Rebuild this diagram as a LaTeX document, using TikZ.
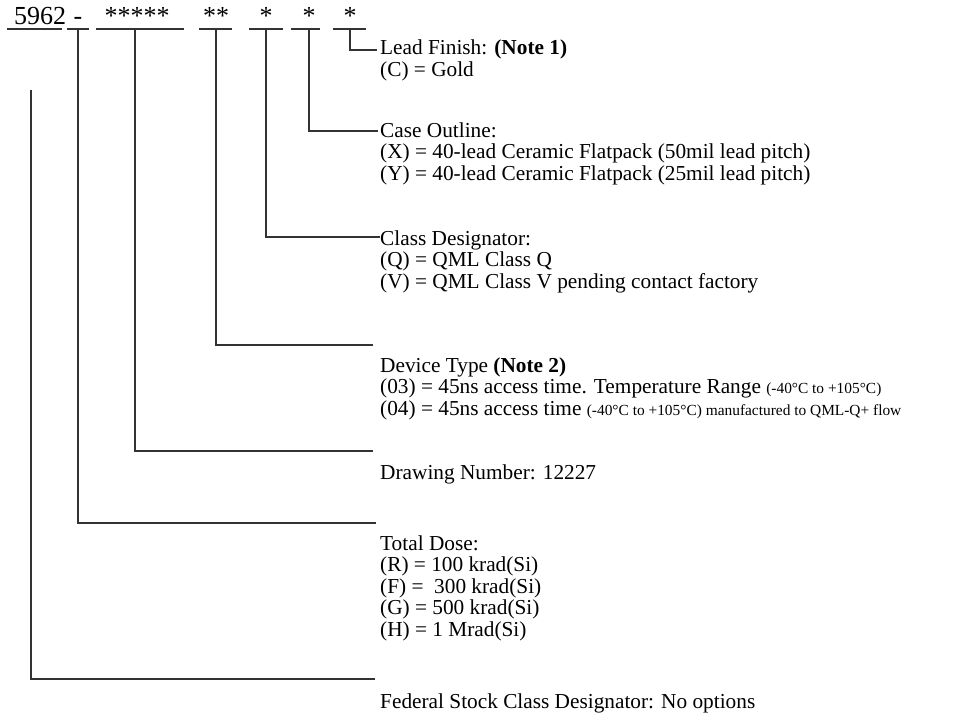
\documentclass[tikz,border=0pt]{standalone}
\usepackage{fontspec}
\setmainfont{Liberation Serif}
\newcommand{\tinytxt}[1]{{\fontsize{15.4}{16}\selectfont #1}}
\tikzset{
  field/.style={anchor=base, inner sep=0pt, font=\fontsize{26}{26}\selectfont},
  entry/.style={anchor=base west, inner sep=0pt, align=left, font=\fontsize{21.3}{21.5}\selectfont},
  rule/.style={line width=1.2pt, draw=black!80}
}

\begin{document}
\begin{tikzpicture}[x=1pt, y=-1pt]
  \useasboundingbox (0,0) rectangle (969,717);
  \node[field, anchor=base west] (fsc) at (14,25) {5962};
  \node[field] (tdose) at (78,25) {-};
  \node[field] (dwg) at (137,25) {*****};
  \node[field] (dev) at (216,25) {**};
  \node[field] (cls) at (266,25) {*};
  \node[field] (case) at (309,25) {*};
  \node[field] (fin) at (350,25) {*};
  \foreach \a/\b in {7/62, 67/89, 96/184, 199/232, 249/283, 291/320, 333/366} {
    \draw[rule] (\a,29) -- (\b,29);
  }
  \node[entry] (finish) at (380,76.5) {Lead Finish: \textbf{(Note 1)}\\(C) = Gold};
  \node[entry] (outline) at (380,180) {Case Outline:\\(X) = 40-lead Ceramic Flatpack (50mil lead pitch)\\(Y) = 40-lead Ceramic Flatpack (25mil lead pitch)};
  \node[entry] (classd) at (380,288) {Class Designator:\\(Q) = QML Class Q\\(V) = QML Class V pending contact factory};
  \node[entry] (devtype) at (380,415) {Device Type \textbf{(Note 2)}\\(03) = 45ns access time. Temperature Range \tinytxt{(-40°C to +105°C)}\\(04) = 45ns access time \tinytxt{(-40°C to +105°C) manufactured to QML-Q+ flow}};
  \node[entry] (drawing) at (380,479) {Drawing Number: 12227};
  \node[entry] (dose) at (380,636) {Total Dose:\\(R) = 100 krad(Si)\\(F) = \ 300 krad(Si)\\(G) = 500 krad(Si)\\(H) = 1 Mrad(Si)};
  \node[entry] (federal) at (380,708) {Federal Stock Class Designator: No options};
  \coordinate (s-fsc) at (31,90);
  \coordinate (e-fsc) at (375,679);
  \coordinate (e-tdose) at (376,523);
  \coordinate (e-dwg) at (373,451);
  \coordinate (e-dev) at (373,345);
  \draw[rule] (fin.base) ++(0,4) |- ([xshift=-3pt, yshift=26.5pt]finish.base west);
  \draw[rule] (case.base) ++(0,4) |- ([xshift=-2pt, yshift=49pt]outline.base west);
  \draw[rule] (cls.base) ++(0,4) |- ([yshift=51pt]classd.base west);
  \draw[rule] (dev.base) ++(0,4) |- (e-dev);
  \draw[rule] ([xshift=-2pt]dwg.base) ++(0,4) |- (e-dwg);
  \draw[rule] (tdose.base) ++(0,4) |- (e-tdose);
  \draw[rule] (s-fsc) |- (e-fsc);
\end{tikzpicture}
\end{document}
